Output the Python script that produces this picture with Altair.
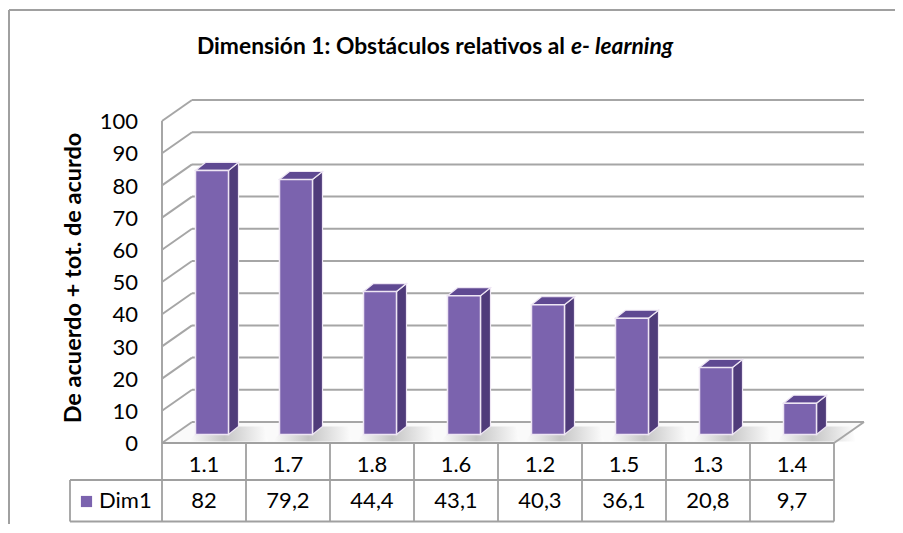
import altair as alt
import pandas as pd

# ---- data ----
categories = ["1.1", "1.7", "1.8", "1.6", "1.2", "1.5", "1.3", "1.4"]
values = [82, 79.2, 44.4, 43.1, 40.3, 36.1, 20.8, 9.7]
ticks = [0, 10, 20, 30, 40, 50, 60, 70, 80, 90, 100]
series_name = "Dim1"
title_main = "Dimensión 1: Obstáculos relativos al"
title_ital = "e- learning"
y_title = "De acuerdo + tot. de acurdo"

# ---- layout (pixels of the plot area) ----
W, H = 887, 516
PXU, PXV = 84.0, 3.22      # pixels per category, pixels per value unit
OX, OY = 154.0, 435.0      # plot-pixel position of (category 0, value 0)
FONT = "Lato"
GRID = "#A6A6A6"
FS = 22


def U(page_x):
    return (page_x - 8 - OX) / PXU


def V(page_y):
    return (OY - (page_y - 8)) / PXV


YLOW = (OY - H) / PXV
YHIGH = OY / PXV
XHIGH = (W - OX) / PXU
xs = alt.Scale(domain=[-OX / PXU, XHIGH], nice=False, zero=False)
ys = alt.Scale(domain=[YLOW, YHIGH], nice=False, zero=False)

n = len(categories)
DX, DY = 30 / PXU, 21 / PXV           # depth of the box
BW, BDX, BDY = 33 / PXU, 8 / PXU, 8.5 / PXV
SDX, SDY = 10 / PXU, 8 / PXV          # depth of a bar
R1, R2, LX = V(480), V(521.5), U(70)


def rules(segs, color=GRID, width=2.0):
    df = pd.DataFrame(segs, columns=["x", "x2", "y", "y2"])
    return alt.Chart(df).mark_rule(color=color, strokeWidth=width).encode(
        x=alt.X("x:Q", scale=xs, axis=None), x2="x2:Q",
        y=alt.Y("y:Q", scale=ys, axis=None), y2="y2:Q")


# box: back wall grid, left wall diagonals, front edge, floor
grid = [(DX, n + DX, t + DY, t + DY) for t in ticks]
diag = [(0, DX, t, t + DY) for t in ticks]
front = [(0, 0, 0, ticks[-1]), (n, n + DX, 0, DY)]
table = [(0, n, 0, 0), (LX, n, R1, R1), (LX, n, R2, R2), (LX, LX, R1, R2)]
table += [(i, i, 0, R2) for i in range(n + 1)]
frame = [(U(9), XHIGH, V(10), V(10)), (U(9), U(9), V(10), YLOW)]
edge_cover = [(XHIGH - 4 / PXU, XHIGH - 4 / PXU, YLOW, YHIGH)]

floor_df = pd.DataFrame({"y": [0, DY], "x": [0, DX], "x2": [n, n + DX]})
floor = alt.Chart(floor_df).mark_area(orient="horizontal", color="#FAFAFA").encode(
    y=alt.Y("y:Q", scale=ys, axis=None), x=alt.X("x:Q", scale=xs, axis=None), x2="x2:Q")

# bars
front_rows, side_rows, top_rows, shadow_rows = [], [], [], []
for i, (c, v) in enumerate(zip(categories, values)):
    xl = i + 0.5 - BW / 2 + BDX
    xr = xl + BW
    base, top = BDY, BDY + v
    front_rows.append({"k": c, "x": xl, "x2": xr, "y": base, "y2": top})
    side_rows += [{"k": c, "x": xr, "y": top, "y2": base},
                  {"k": c, "x": xr + SDX, "y": top + SDY, "y2": base + SDY}]
    top_rows += [{"k": c, "y": top, "x": xl, "x2": xr},
                 {"k": c, "y": top + SDY, "x": xl + SDX, "x2": xr + SDX}]
    shadow_rows += [{"k": c, "y": base - 2.2, "x": xl - 0.08, "x2": xr + SDX + 0.35},
                    {"k": c, "y": base + SDY, "x": xl + SDX - 0.05, "x2": xr + SDX + 0.3}]

shadow = alt.Chart(pd.DataFrame(shadow_rows)).mark_area(
    orient="horizontal", opacity=0.55,
    color=alt.Gradient(gradient="linear", x1=0, x2=1, y1=0, y2=0,
                       stops=[alt.GradientStop(color="#FFFFFF", offset=0),
                              alt.GradientStop(color="#9A9A9A", offset=0.45),
                              alt.GradientStop(color="#FFFFFF", offset=1)])).encode(
    y=alt.Y("y:Q", scale=ys, axis=None), x=alt.X("x:Q", scale=xs, axis=None),
    x2="x2:Q", detail="k:N")

bar_front = alt.Chart(pd.DataFrame(front_rows)).mark_rect(
    color="#7B63AE", stroke="#EEE6F4", strokeWidth=1.5).encode(
    x=alt.X("x:Q", scale=xs, axis=None), x2="x2:Q",
    y=alt.Y("y:Q", scale=ys, axis=None), y2="y2:Q")
bar_side = alt.Chart(pd.DataFrame(side_rows)).mark_area(
    orient="vertical", color="#4F3B7A", stroke="#EEE6F4", strokeWidth=1.2).encode(
    x=alt.X("x:Q", scale=xs, axis=None),
    y=alt.Y("y:Q", scale=ys, axis=None), y2="y2:Q", detail="k:N")
bar_top = alt.Chart(pd.DataFrame(top_rows)).mark_area(
    orient="horizontal", color="#5F4992", stroke="#EEE6F4", strokeWidth=1.2).encode(
    y=alt.Y("y:Q", scale=ys, axis=None), x=alt.X("x:Q", scale=xs, axis=None),
    x2="x2:Q", detail="k:N")


def texts(df, **kw):
    return alt.Chart(df).mark_text(font=FONT, color="#000000", **kw).encode(
        x=alt.X("x:Q", scale=xs, axis=None), y=alt.Y("y:Q", scale=ys, axis=None),
        text="t:N")


tick_df = pd.DataFrame({"x": [U(138)] * len(ticks), "y": [t - 0.4 for t in ticks],
                        "t": [str(t) for t in ticks]})
cat_df = pd.DataFrame({"x": [i + 0.5 for i in range(n)], "y": [V(465)] * n, "t": categories})
val_df = pd.DataFrame({"x": [i + 0.5 for i in range(n)], "y": [V(501)] * n,
                       "t": [f"{v:g}".replace(".", ",") for v in values]})
leg_df = pd.DataFrame({"x": [U(99)], "y": [V(501)], "t": [series_name]})
sq_df = pd.DataFrame({"x": [U(86.5)], "y": [V(501.5)]})
t1_df = pd.DataFrame({"x": [U(565)], "y": [V(47)], "t": [title_main]})
t2_df = pd.DataFrame({"x": [U(571)], "y": [V(47)], "t": [title_ital]})
yt_df = pd.DataFrame({"x": [U(74)], "y": [V(278)], "t": [y_title]})

layers = [
    rules(edge_cover, color="#FFFFFF", width=10),
    rules(frame, color="#A0A0A0", width=2),
    floor,
    shadow,
    rules(grid), rules(diag), rules(front), rules(table, color="#A0A0A0", width=1.8),
    bar_side, bar_top, bar_front,
    texts(tick_df, align="right", baseline="middle", fontSize=FS),
    texts(cat_df, align="center", baseline="middle", fontSize=FS),
    texts(val_df, align="center", baseline="middle", fontSize=FS),
    texts(leg_df, align="left", baseline="middle", fontSize=FS),
    alt.Chart(sq_df).mark_square(size=125, color="#7B63AE", opacity=1).encode(
        x=alt.X("x:Q", scale=xs, axis=None), y=alt.Y("y:Q", scale=ys, axis=None)),
    texts(t1_df, align="right", baseline="middle", fontSize=22.8, fontWeight="bold"),
    texts(t2_df, align="left", baseline="middle", fontSize=22.8, fontWeight="bold", fontStyle="italic"),
    texts(yt_df, align="center", baseline="middle", fontSize=23.5, fontWeight="bold", angle=270),
]

chart = alt.layer(*layers).properties(
    width=W, height=H, padding=0, autosize=alt.AutoSizeParams(type="none")
).configure_view(strokeWidth=0, stroke="transparent")

chart.save("out.html", embed_options={"renderer": "svg", "actions": False})
